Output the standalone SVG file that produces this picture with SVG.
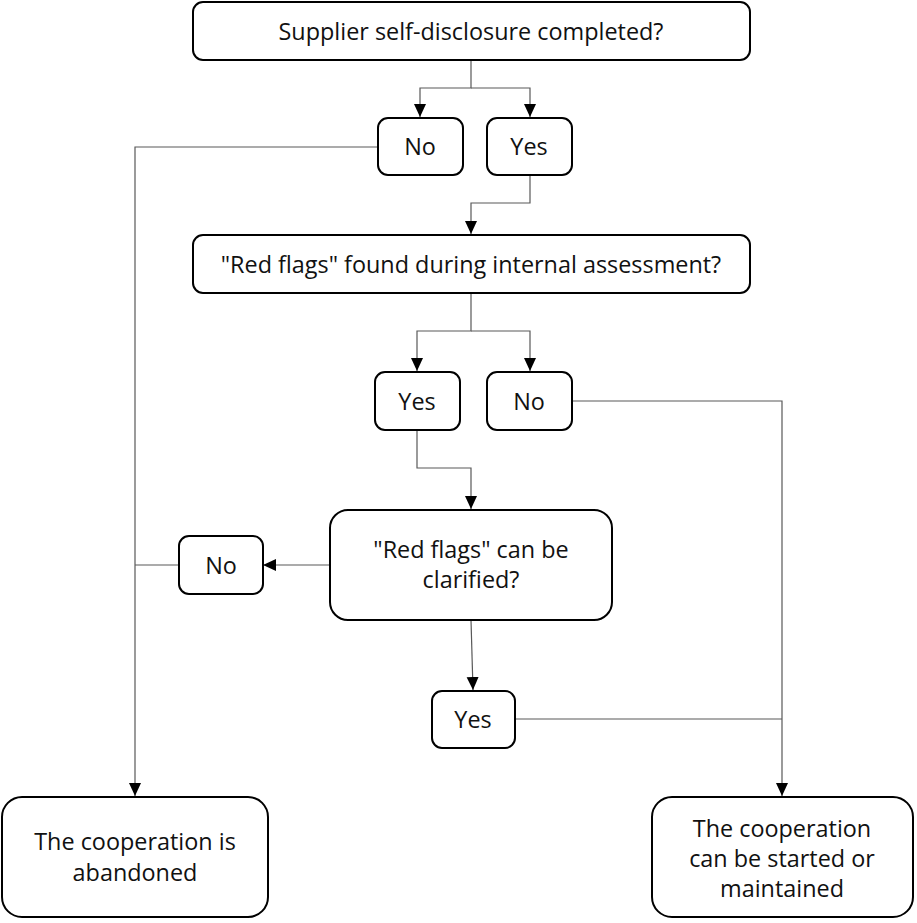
<svg xmlns="http://www.w3.org/2000/svg" width="917" height="923" viewBox="0 0 917 923">
<style>
.box{fill:#fff;stroke:#000;stroke-width:2}
.t{font-family:"Open Sans","Liberation Sans",sans-serif;font-size:23.4px;fill:#111;text-anchor:middle}
.c{fill:none;stroke:#595959;stroke-width:1.2}
</style>
<defs>
<marker id="ah" markerWidth="14" markerHeight="14" refX="13" refY="6.5" orient="auto" markerUnits="userSpaceOnUse">
<path d="M0,0.5 L13,6.5 L0,12.5 Z" fill="#000"/>
</marker>
</defs>
<rect width="917" height="923" fill="#fff"/>
<g id="connectors">
<path class="c" d="M471,60 V88 H420 V117" marker-end="url(#ah)"/>
<path class="c" d="M471,88 H530 V117" marker-end="url(#ah)"/>
<path class="c" d="M378,147 H135 V796" marker-end="url(#ah)"/>
<path class="c" d="M530,175 V203 H471 V234" marker-end="url(#ah)"/>
<path class="c" d="M471,293 V331 H417 V371" marker-end="url(#ah)"/>
<path class="c" d="M471,331 H530 V371" marker-end="url(#ah)"/>
<path class="c" d="M572,401 H782 V796" marker-end="url(#ah)"/>
<path class="c" d="M417,430 V468 H471 V509" marker-end="url(#ah)"/>
<path class="c" d="M330,565 H263" marker-end="url(#ah)"/>
<path class="c" d="M179,565 H135"/>
<path class="c" d="M471,620 L473,690" marker-end="url(#ah)"/>
<path class="c" d="M515,719 H782"/>
</g>
<g id="n1"><rect class="box" x="193" y="2" width="557" height="58" rx="10"/><text class="t" x="471" y="39.5">Supplier self-disclosure completed?</text></g>
<g id="n2"><rect class="box" x="378" y="118" width="85" height="57" rx="10"/><text class="t" x="420" y="155">No</text></g>
<g id="n3"><rect class="box" x="487" y="118" width="85" height="57" rx="10"/><text class="t" x="529" y="155">Yes</text></g>
<g id="n4"><rect class="box" x="193" y="235" width="557" height="58" rx="10"/><text class="t" x="471" y="272.5">"Red flags" found during internal assessment?</text></g>
<g id="n5"><rect class="box" x="375" y="372" width="85" height="58" rx="10"/><text class="t" x="417" y="409.5">Yes</text></g>
<g id="n6"><rect class="box" x="487" y="372" width="85" height="58" rx="10"/><text class="t" x="529" y="409.5">No</text></g>
<g id="n7"><rect class="box" x="330" y="510" width="282" height="110" rx="18"/><text class="t" x="471" y="558">"Red flags" can be</text><text class="t" x="471" y="588">clarified?</text></g>
<g id="n8"><rect class="box" x="179" y="536" width="84" height="58" rx="10"/><text class="t" x="221" y="573.5">No</text></g>
<g id="n9"><rect class="box" x="432" y="691" width="83" height="57" rx="10"/><text class="t" x="473" y="728">Yes</text></g>
<g id="n10"><rect class="box" x="2" y="797" width="266" height="120" rx="20"/><text class="t" x="135" y="850">The cooperation is</text><text class="t" x="135" y="881">abandoned</text></g>
<g id="n11"><rect class="box" x="652" y="797" width="261" height="120" rx="20"/><text class="t" x="782" y="837">The cooperation</text><text class="t" x="782" y="867">can be started or</text><text class="t" x="782" y="897">maintained</text></g>
</svg>
